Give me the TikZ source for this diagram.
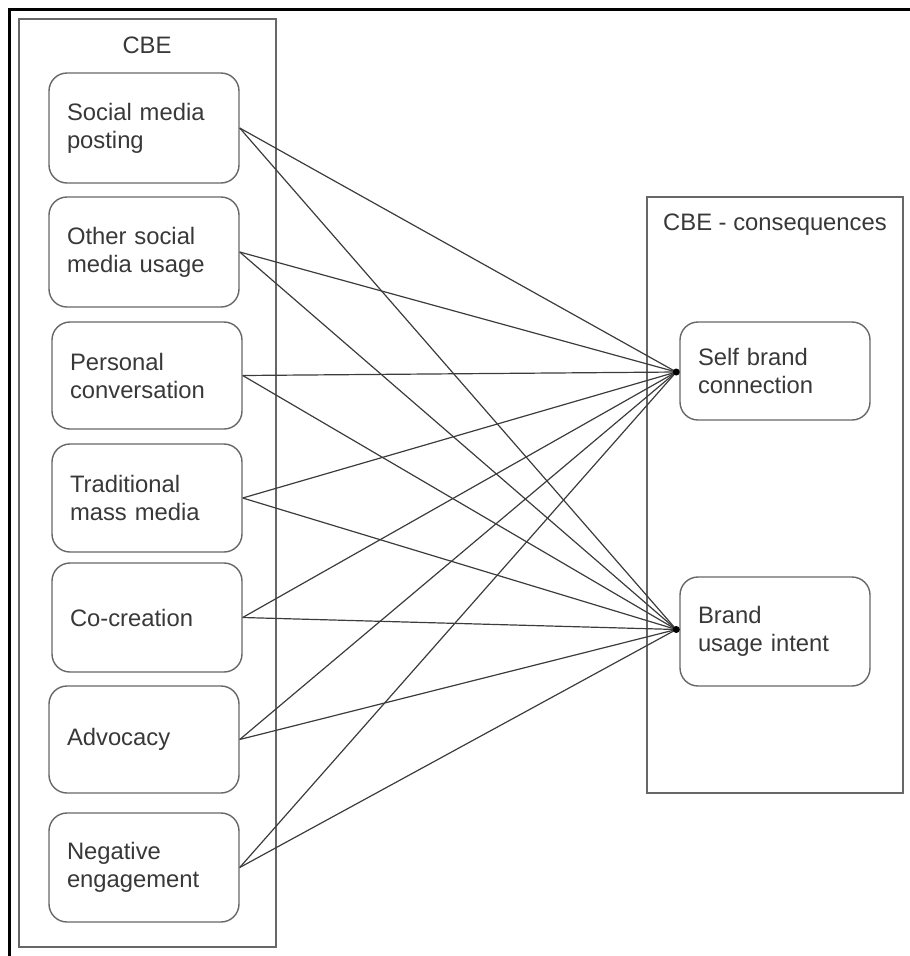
\documentclass[tikz,border=0pt]{standalone}
\usepackage{fontspec}
\setmainfont{Liberation Sans}
\definecolor{boxgray}{HTML}{676767}
\definecolor{linegray}{HTML}{3C3C3C}
\definecolor{txt}{HTML}{383838}
\begin{document}
\begin{tikzpicture}[x=1pt,y=-1pt,
  frame/.style={draw=black,line width=3pt},
  group/.style={draw=boxgray,line width=1.4pt},
  label/.style={text=txt,inner sep=0pt,font=\fontsize{23.8}{28}\selectfont},
  item/.style={draw=boxgray,line width=1.4pt,rounded corners=18pt,
    minimum width=190pt,minimum height=#1,text width=154pt,align=left,
    inner xsep=18pt,inner ysep=0pt,text=txt,font=\fontsize{23.8}{28}\selectfont},
  link/.style={draw=linegray,line width=1.2pt},
  joint/.style={fill=black}]
\useasboundingbox (0,0) rectangle (910,956);

% cropped outer frame (top and left edges only)
\draw[frame] (9,956) -- (9,9) -- (912,9);

% group containers
\draw[group] (19,19) rectangle (276,947);
\draw[group] (647,197) rectangle (903,793);
\node[label] (cbe) at (147,45) {CBE};
\node[label] (cons) at (775,225) {CBE - consequences};

% engagement forms
\node[item=110pt] (b1) at (144,128) {Social media\\posting};
\node[item=110pt] (b2) at (144,252) {Other social\\media usage};
\node[item=107pt] (b3) at (147,375.5) {Personal\\conversation};
\node[item=108pt] (b4) at (147,498) {Traditional\\mass media};
\node[item=109pt] (b5) at (147,617.5) {Co-creation};
\node[item=107pt] (b6) at (144,739.5) {Advocacy};
\node[item=109pt] (b7) at (144,867.5) {Negative\\engagement};

% consequences
\node[item=98pt] (sbc) at (775,371) {Self brand\\connection};
\node[item=109pt] (bui) at (775,631.5) {Brand\\usage intent};

\coordinate (sbcdot) at ([xshift=-3pt,yshift=-1pt]sbc.west);
\coordinate (buidot) at ([xshift=-3pt,yshift=2pt]bui.west);

% every form links to both consequences
\foreach \s in {b1,b2,b3,b4,b5,b6,b7}{
  \draw[link] (\s.east) -- (sbcdot);
  \draw[link] (\s.east) -- (buidot);
}
\fill[joint] (sbcdot) circle (3.5pt);
\fill[joint] (buidot) circle (3.5pt);
\end{tikzpicture}
\end{document}
